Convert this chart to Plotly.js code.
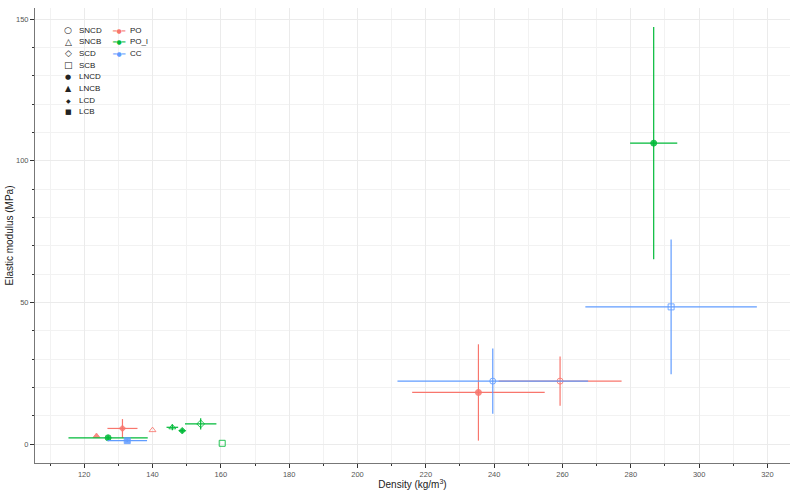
<!DOCTYPE html>
<html>
<head>
<meta charset="utf-8">
<script src="https://cdn.plot.ly/plotly-3.0.1.min.js"></script>
<style>
  body { margin: 0; background: #fff; }
  #plot { width: 796px; height: 490px; }
</style>
</head>
<body>
<div id="plot"></div>
<script>
// one row per sample: group, sample type, density, modulus, and the two spreads
const groups   = ['PO', 'PO', 'PO', 'PO', 'PO',
                  'PO_l', 'PO_l', 'PO_l', 'PO_l', 'PO_l', 'PO_l',
                  'CC', 'CC', 'CC'];
const types    = ['SNCD', 'LNCD', 'LNCB', 'LCD', 'SNCB',
                  'LNCD', 'LNCD', 'SNCB', 'LCD', 'SCD', 'SCB',
                  'SNCD', 'SCB', 'LCB'];
const density  = [259.3, 235.4, 123.6, 131.2, 140.0,
                  286.7, 127.0, 145.8, 148.7, 154.1, 160.4,
                  239.6, 291.8, 132.6];
const modulus  = [22.2, 18.2, 2.8, 5.5, 4.9,
                  106.2, 2.2, 5.9, 4.7, 7.1, 0.25,
                  22.2, 48.4, 1.2];
const densErr  = [18.0, 19.4, 0, 4.4, 0,
                  6.9, 11.6, 1.7, 1.0, 4.6, 0,
                  27.9, 25.1, 5.8];
const modErr   = [8.7, 17.0, 0, 3.3, 0,
                  41.0, 0.8, 1.0, 0.7, 2.0, 0,
                  11.5, 23.8, 0.5];

const groupNames  = ['PO', 'PO_l', 'CC'];
const groupColors = ['#F8766D', '#00BA38', '#619CFF'];

const typeNames   = ['SNCD', 'SNCB', 'SCD', 'SCB', 'LNCD', 'LNCB', 'LCD', 'LCB'];
const typeSymbols = ['circle-open', 'triangle-up-open', 'diamond-open', 'square-open',
                     'circle', 'triangle-up', 'diamond', 'square'];
const typeGlyphs  = ['\u25CB', '\u25B3', '\u25C7', '\u25A1', '\u25CF', '\u25B2', '\u25C6', '\u25A0'];
const glyphSizes  = [9, 9, 9, 9, 7, 8, 6, 7];

function pick(arr, g) {
    return arr.filter((v, i) => groups[i] === g);
}

let traces = groupNames.map((g, k) => {
    let t = pick(types, g);
    return {
        x: pick(density, g),
        y: pick(modulus, g),
        type: 'scatter',
        mode: 'markers',
        name: g,
        showlegend: false,
        marker: {
            color: groupColors[k],
            symbol: t.map(s => typeSymbols[typeNames.indexOf(s)]),
            size: t.map(s => s === 'LCD' ? 5 : 6),
            opacity: 0.85,
            line: { color: groupColors[k], width: 1 }
        },
        error_x: { type: 'data', array: pick(densErr, g), visible: true,
                   color: groupColors[k], thickness: 1.2, width: 0 },
        error_y: { type: 'data', array: pick(modErr, g), visible: true,
                   color: groupColors[k], thickness: 1.2, width: 0 }
    };
});

// hand made legend, two columns, pixel offsets from the top left plot corner
let notes = [];
const rowGap = 11.7;
typeNames.forEach((n, i) => {
    notes.push({ xref: 'paper', yref: 'paper', x: 0, y: 1, xanchor: 'center', yanchor: 'middle',
                 xshift: 33, yshift: -22 - i * rowGap, showarrow: false,
                 text: typeGlyphs[i], font: { family: 'DejaVu Sans', size: glyphSizes[i], color: '#222' } });
    notes.push({ xref: 'paper', yref: 'paper', x: 0, y: 1, xanchor: 'left', yanchor: 'middle',
                 xshift: 42, yshift: -22 - i * rowGap, showarrow: false,
                 text: n, font: { family: 'Liberation Sans', size: 8, color: '#222' } });
});
groupNames.forEach((g, i) => {
    notes.push({ xref: 'paper', yref: 'paper', x: 0, y: 1, xanchor: 'center', yanchor: 'middle',
                 xshift: 84, yshift: -22 - i * rowGap, showarrow: false,
                 text: '\u2501\u25CF\u2501', font: { family: 'DejaVu Sans', size: 6, color: groupColors[i] } });
    notes.push({ xref: 'paper', yref: 'paper', x: 0, y: 1, xanchor: 'left', yanchor: 'middle',
                 xshift: 93, yshift: -22 - i * rowGap, showarrow: false,
                 text: g, font: { family: 'Liberation Sans', size: 8, color: '#222' } });
});

let layout = {
    width: 796,
    height: 490,
    margin: { l: 35, r: 6, t: 8, b: 27 },
    paper_bgcolor: '#ffffff',
    plot_bgcolor: '#ffffff',
    font: { family: 'Liberation Sans', size: 7, color: '#555' },
    showlegend: false,
    xaxis: {
        range: [105.6, 326.6],
        tick0: 120, dtick: 20,
        ticks: 'outside', ticklen: 4, tickcolor: '#333', tickwidth: 1,
        showline: true, linecolor: '#777', linewidth: 1,
        gridcolor: '#ebebeb', gridwidth: 1, zeroline: false,
        minor: { tick0: 110, dtick: 10, ticks: 'outside', ticklen: 2, tickcolor: '#333',
                 showgrid: true, gridcolor: '#f2f2f2' },
        tickfont: { size: 7.5, color: '#555' },
        title: { text: 'Density (kg/m<sup>3</sup>)', standoff: 0,
                 font: { size: 10, color: '#222' } }
    },
    yaxis: {
        range: [-6.7, 153.9],
        tick0: 0, dtick: 50,
        ticks: 'outside', ticklen: 4, tickcolor: '#333', tickwidth: 1,
        showline: true, linecolor: '#777', linewidth: 1,
        gridcolor: '#ebebeb', gridwidth: 1, zeroline: false,
        minor: { tick0: 0, dtick: 10, ticks: 'outside', ticklen: 2, tickcolor: '#333',
                 showgrid: true, gridcolor: '#f2f2f2' },
        tickfont: { size: 7.5, color: '#555' },
        title: { text: 'Elastic modulus (MPa)', standoff: 0,
                 font: { size: 10, color: '#222' } }
    },
    annotations: notes
};

Plotly.newPlot('plot', traces, layout, { displayModeBar: false, staticPlot: true });
</script>
</body>
</html>
